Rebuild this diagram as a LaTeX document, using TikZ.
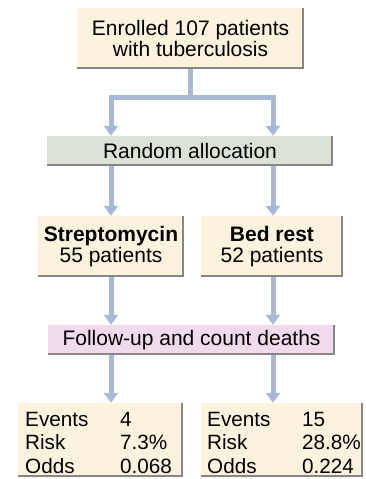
\documentclass[tikz,border=0pt]{standalone}
\usepackage{fontspec}
\setmainfont{Liberation Sans}
\usetikzlibrary{arrows.meta}
\definecolor{cream}{HTML}{FCF3DE}
\definecolor{greenish}{HTML}{DCE3D6}
\definecolor{pinkish}{HTML}{F0DAEC}
\definecolor{arrowc}{HTML}{A7B9D6}
\definecolor{edgec}{HTML}{868686}
\begin{document}
\begin{tikzpicture}[x=1pt,y=-1pt,
  box/.style={rectangle, inner sep=0pt, align=center, font=\fontsize{21}{20.5}\selectfont},
  flow/.style={line width=5pt, draw=arrowc},
  tip/.style={-{Triangle[width=14pt,length=10pt]}},
  tips/.style={{Triangle[width=14pt,length=10pt]}-{Triangle[width=14pt,length=10pt]}},
  edgeline/.style={draw=edgec, line width=2pt},
  tabtext/.style={anchor=base west, inner sep=0pt, font=\fontsize{20.7}{23.5}\selectfont}]
\useasboundingbox (0,0) rectangle (365,479);
\fill[white] (0,0) rectangle (365,479);

% boxes
\node[box, fill=cream, minimum width=227, minimum height=61] (e) at (190.5,38.5)
  {Enrolled 107 patients\\with tuberculosis};
\node[box, fill=greenish, minimum width=286, minimum height=30] (ra) at (190,151)
  {Random allocation};
\node[box, fill=cream, minimum width=146, minimum height=61] (s) at (111,246.5)
  {\textbf{Streptomycin}\\55 patients};
\node[box, fill=cream, minimum width=142, minimum height=61] (b) at (272,246.5)
  {\textbf{Bed rest}\\52 patients};
\node[box, fill=pinkish, minimum width=287, minimum height=30] (f) at (191.5,340)
  {Follow-up and count deaths};
\node[box, fill=cream, minimum width=165, minimum height=74] (L) at (100.5,440) {};
\node[box, fill=cream, minimum width=162, minimum height=74] (R) at (282,440) {};

\node[tabtext] (Lt) at (25,426)
  {\begin{tabular}[t]{@{}p{95pt}@{}l@{}}Events & 4\\ Risk & 7.3\%\\ Odds & 0.068\end{tabular}};
\node[tabtext] (Rt) at (207,426)
  {\begin{tabular}[t]{@{}p{95pt}@{}l@{}}Events & 15\\ Risk & 28.8\%\\ Odds & 0.224\end{tabular}};

% right/bottom edge lines
\foreach \n in {e,ra,s,b,f,L,R}
  \draw[edgeline] ([xshift=-1pt]\n.north east) -- ([xshift=-1pt,yshift=1pt]\n.south east)
    -- ([yshift=1pt]\n.south west);

% connectors
\coordinate (jL) at (111,97);
\coordinate (jR) at (273,97);
\draw[flow] (e.south) -- (e.south |- jL);
\draw[flow, tips] (jL |- ra.north) -- (jL) -- (jR) -- (jR |- ra.north);
\draw[flow, tip] (ra.south -| s.north) -- (s.north);
\draw[flow, tip] (ra.south -| jR) -- (b.north -| jR);
\draw[flow, tip] (s.south) -- (f.north -| s.south);
\draw[flow, tip] (b.south -| jR) -- (f.north -| jR);
\draw[flow, tip] (f.south -| s.south) -- (L.north -| s.south);
\draw[flow, tip] (f.south -| jR) -- (R.north -| jR);
\end{tikzpicture}
\end{document}
